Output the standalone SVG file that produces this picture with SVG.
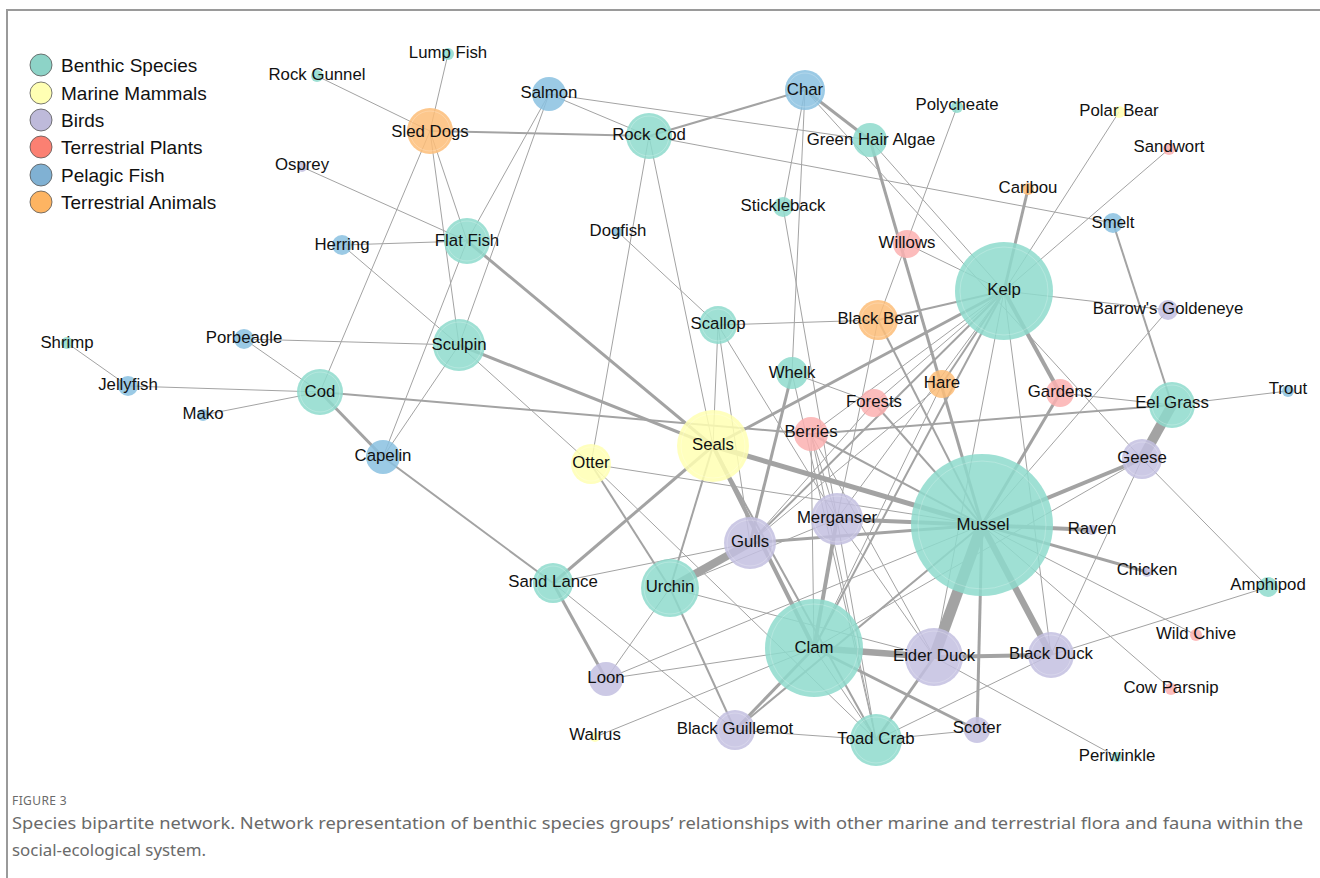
<svg xmlns="http://www.w3.org/2000/svg" width="1320" height="878" viewBox="0 0 1320 878">
<style>
.e{stroke:#a3a3a3;stroke-linecap:butt;fill:none}
.w1{stroke-width:1}.w2{stroke-width:2}.w3{stroke-width:3}.w4{stroke-width:4}.w5{stroke-width:5}.w6{stroke-width:6.5}.w8{stroke-width:8}.w10{stroke-width:10}.w11{stroke-width:11}
.n{fill-opacity:0.85}
.b{fill:#8edbcc}.m{fill:#ffffb3}.bi{fill:#c3bfe0}.p{fill:#fbb0b0}.f{fill:#8ac1e0}.a{fill:#fdbd78}
.ring{fill:none;stroke:#fff;stroke-opacity:0.22;stroke-width:1}
.lbl{font-family:"Liberation Sans",Arial,sans-serif;font-size:16.8px;fill:#111;text-anchor:middle}
.leg{font-family:"Liberation Sans",Arial,sans-serif;font-size:19px;fill:#111}
.lc{stroke:#555;stroke-width:0.8}
.cap{font-family:"Noto Sans","Open Sans",sans-serif;fill:#6a6a6a}
</style>
<rect x="0" y="0" width="1320" height="878" fill="#fff"/>
<path d="M7 878 V10 H1320" fill="none" stroke="#9a9a9a" stroke-width="2"/>

<g id="legend">
<circle class="lc" cx="41" cy="65" r="11" fill="#8dd3c7"/><text class="leg" x="61" y="72">Benthic Species</text>
<circle class="lc" cx="41" cy="93" r="11" fill="#ffffb3"/><text class="leg" x="61" y="100">Marine Mammals</text>
<circle class="lc" cx="41" cy="120" r="11" fill="#bebada"/><text class="leg" x="61" y="127">Birds</text>
<circle class="lc" cx="41" cy="147" r="11" fill="#fb8072"/><text class="leg" x="61" y="154">Terrestrial Plants</text>
<circle class="lc" cx="41" cy="175" r="11" fill="#80b1d3"/><text class="leg" x="61" y="182">Pelagic Fish</text>
<circle class="lc" cx="41" cy="202" r="11" fill="#fdb462"/><text class="leg" x="61" y="209">Terrestrial Animals</text>
</g>

<g id="connectors">
<line class="e w1" x1="448" y1="54" x2="430" y2="131"/>
<line class="e w1" x1="317" y1="76" x2="430" y2="131"/>
<line class="e w1" x1="302" y1="167" x2="467" y2="241"/>
<line class="e w1" x1="342" y1="245" x2="467" y2="241"/>
<line class="e w1" x1="342" y1="245" x2="459" y2="345"/>
<line class="e w1" x1="430" y1="131" x2="320" y2="392"/>
<line class="e w1" x1="430" y1="131" x2="459" y2="345"/>
<line class="e w1" x1="430" y1="131" x2="467" y2="241"/>
<line class="e w2" x1="430" y1="131" x2="649" y2="136"/>
<line class="e w1" x1="549" y1="94" x2="467" y2="241"/>
<line class="e w1" x1="549" y1="94" x2="459" y2="345"/>
<line class="e w1" x1="549" y1="94" x2="649" y2="136"/>
<line class="e w1" x1="549" y1="94" x2="870" y2="140"/>
<line class="e w2" x1="805" y1="90" x2="649" y2="136"/>
<line class="e w3" x1="805" y1="90" x2="870" y2="140"/>
<line class="e w1" x1="805" y1="90" x2="783" y2="207"/>
<line class="e w1" x1="805" y1="90" x2="792" y2="373"/>
<line class="e w1" x1="805" y1="90" x2="1142" y2="459"/>
<line class="e w1" x1="870" y1="140" x2="1004" y2="291"/>
<line class="e w3" x1="870" y1="140" x2="982" y2="525"/>
<line class="e w1" x1="783" y1="207" x2="837" y2="519"/>
<line class="e w1" x1="649" y1="136" x2="1113" y2="223"/>
<line class="e w1" x1="649" y1="136" x2="591" y2="464"/>
<line class="e w1" x1="649" y1="136" x2="713" y2="446"/>
<line class="e w1" x1="618" y1="232" x2="718" y2="325"/>
<line class="e w1" x1="718" y1="325" x2="837" y2="519"/>
<line class="e w1" x1="718" y1="325" x2="878" y2="320"/>
<line class="e w1" x1="718" y1="325" x2="713" y2="446"/>
<line class="e w1" x1="718" y1="325" x2="750" y2="543"/>
<line class="e w3" x1="467" y1="241" x2="713" y2="446"/>
<line class="e w1" x1="467" y1="241" x2="383" y2="457"/>
<line class="e w1" x1="244" y1="339" x2="320" y2="392"/>
<line class="e w1" x1="244" y1="339" x2="459" y2="345"/>
<line class="e w1" x1="67" y1="343" x2="128" y2="386"/>
<line class="e w1" x1="128" y1="386" x2="320" y2="392"/>
<line class="e w1" x1="203" y1="415" x2="320" y2="392"/>
<line class="e w3" x1="320" y1="392" x2="383" y2="457"/>
<line class="e w2" x1="320" y1="392" x2="811" y2="434"/>
<line class="e w2" x1="811" y1="434" x2="1172" y2="405"/>
<line class="e w3" x1="459" y1="345" x2="713" y2="446"/>
<line class="e w1" x1="459" y1="345" x2="591" y2="464"/>
<line class="e w1" x1="459" y1="345" x2="383" y2="457"/>
<line class="e w2" x1="383" y1="457" x2="553" y2="583"/>
<line class="e w3" x1="553" y1="583" x2="713" y2="446"/>
<line class="e w1" x1="553" y1="583" x2="750" y2="543"/>
<line class="e w3" x1="553" y1="583" x2="606" y2="679"/>
<line class="e w1" x1="553" y1="583" x2="735" y2="730"/>
<line class="e w2" x1="591" y1="464" x2="670" y2="588"/>
<line class="e w1" x1="591" y1="464" x2="876" y2="740"/>
<line class="e w1" x1="591" y1="464" x2="982" y2="525"/>
<line class="e w3" x1="713" y1="446" x2="1004" y2="291"/>
<line class="e w5" x1="713" y1="446" x2="982" y2="525"/>
<line class="e w4" x1="713" y1="446" x2="814" y2="648"/>
<line class="e w2" x1="713" y1="446" x2="876" y2="740"/>
<line class="e w2" x1="713" y1="446" x2="670" y2="588"/>
<line class="e w1" x1="792" y1="373" x2="874" y2="403"/>
<line class="e w3" x1="792" y1="373" x2="750" y2="543"/>
<line class="e w1" x1="792" y1="373" x2="876" y2="740"/>
<line class="e w2" x1="878" y1="320" x2="1004" y2="291"/>
<line class="e w1" x1="957" y1="107" x2="878" y2="320"/>
<line class="e w1" x1="878" y1="320" x2="837" y2="519"/>
<line class="e w2" x1="878" y1="320" x2="982" y2="525"/>
<line class="e w1" x1="1004" y1="291" x2="1168" y2="310"/>
<line class="e w4" x1="1004" y1="291" x2="1060" y2="393"/>
<line class="e w1" x1="1004" y1="291" x2="934" y2="657"/>
<line class="e w1" x1="1004" y1="291" x2="1051" y2="655"/>
<line class="e w3" x1="1004" y1="291" x2="1028" y2="189"/>
<line class="e w1" x1="1004" y1="291" x2="1119" y2="112"/>
<line class="e w1" x1="1004" y1="291" x2="1169" y2="149"/>
<line class="e w1" x1="1004" y1="291" x2="907" y2="244"/>
<line class="e w2" x1="1004" y1="291" x2="750" y2="543"/>
<line class="e w1" x1="1004" y1="291" x2="837" y2="519"/>
<line class="e w2" x1="1004" y1="291" x2="814" y2="648"/>
<line class="e w1" x1="1004" y1="291" x2="811" y2="434"/>
<line class="e w2" x1="1004" y1="291" x2="942" y2="384"/>
<line class="e w1" x1="1004" y1="291" x2="874" y2="403"/>
<line class="e w4" x1="982" y1="525" x2="837" y2="519"/>
<line class="e w3" x1="982" y1="525" x2="750" y2="543"/>
<line class="e w11" x1="982" y1="525" x2="934" y2="657"/>
<line class="e w6" x1="982" y1="525" x2="1051" y2="655"/>
<line class="e w4" x1="982" y1="525" x2="1092" y2="530"/>
<line class="e w3" x1="982" y1="525" x2="1147" y2="572"/>
<line class="e w1" x1="982" y1="525" x2="1196" y2="635"/>
<line class="e w1" x1="982" y1="525" x2="1171" y2="689"/>
<line class="e w3" x1="982" y1="525" x2="977" y2="730"/>
<line class="e w4" x1="982" y1="525" x2="1142" y2="459"/>
<line class="e w3" x1="982" y1="525" x2="1060" y2="393"/>
<line class="e w1" x1="982" y1="525" x2="1168" y2="310"/>
<line class="e w2" x1="982" y1="525" x2="735" y2="730"/>
<line class="e w1" x1="982" y1="525" x2="606" y2="679"/>
<line class="e w2" x1="874" y1="403" x2="982" y2="525"/>
<line class="e w1" x1="874" y1="403" x2="750" y2="543"/>
<line class="e w1" x1="942" y1="384" x2="814" y2="648"/>
<line class="e w1" x1="942" y1="384" x2="750" y2="543"/>
<line class="e w1" x1="811" y1="434" x2="814" y2="648"/>
<line class="e w2" x1="811" y1="434" x2="982" y2="525"/>
<line class="e w1" x1="811" y1="434" x2="837" y2="519"/>
<line class="e w1" x1="811" y1="434" x2="934" y2="657"/>
<line class="e w1" x1="811" y1="434" x2="876" y2="740"/>
<line class="e w8" x1="670" y1="588" x2="750" y2="543"/>
<line class="e w1" x1="670" y1="588" x2="606" y2="679"/>
<line class="e w2" x1="670" y1="588" x2="735" y2="730"/>
<line class="e w1" x1="670" y1="588" x2="934" y2="657"/>
<line class="e w1" x1="670" y1="588" x2="837" y2="519"/>
<line class="e w1" x1="606" y1="679" x2="814" y2="648"/>
<line class="e w1" x1="595" y1="737" x2="814" y2="648"/>
<line class="e w1" x1="735" y1="730" x2="876" y2="740"/>
<line class="e w3" x1="735" y1="730" x2="814" y2="648"/>
<line class="e w1" x1="876" y1="740" x2="977" y2="730"/>
<line class="e w3" x1="876" y1="740" x2="934" y2="657"/>
<line class="e w1" x1="876" y1="740" x2="1051" y2="655"/>
<line class="e w1" x1="876" y1="740" x2="814" y2="648"/>
<line class="e w3" x1="977" y1="730" x2="814" y2="648"/>
<line class="e w6" x1="934" y1="657" x2="814" y2="648"/>
<line class="e w4" x1="934" y1="657" x2="1051" y2="655"/>
<line class="e w1" x1="934" y1="657" x2="1117" y2="757"/>
<line class="e w1" x1="1051" y1="655" x2="1268" y2="587"/>
<line class="e w1" x1="1051" y1="655" x2="1142" y2="459"/>
<line class="e w1" x1="1142" y1="459" x2="1268" y2="587"/>
<line class="e w10" x1="1142" y1="459" x2="1172" y2="405"/>
<line class="e w2" x1="1172" y1="405" x2="1113" y2="223"/>
<line class="e w1" x1="1172" y1="405" x2="1288" y2="391"/>
<line class="e w1" x1="1172" y1="405" x2="1060" y2="393"/>
<line class="e w1" x1="814" y1="648" x2="1142" y2="459"/>
<line class="e w4" x1="837" y1="519" x2="814" y2="648"/>
<line class="e w1" x1="837" y1="519" x2="934" y2="657"/>
<line class="e w1" x1="837" y1="519" x2="876" y2="740"/>
</g>

<g id="node-lump-fish"><circle class="n b" cx="448" cy="54" r="6"/><text class="lbl" x="448" y="58">Lump Fish</text></g>
<g id="node-rock-gunnel"><circle class="n b" cx="317" cy="76" r="6"/><text class="lbl" x="317" y="80">Rock Gunnel</text></g>
<g id="node-sled-dogs"><circle class="n a" cx="430" cy="131" r="23"/><circle class="ring" cx="430" cy="131" r="20"/><text class="lbl" x="430" y="137">Sled Dogs</text></g>
<g id="node-osprey"><circle class="n bi" cx="302" cy="167" r="5"/><text class="lbl" x="302" y="170">Osprey</text></g>
<g id="node-salmon"><circle class="n f" cx="549" cy="94" r="17"/><text class="lbl" x="549" y="98">Salmon</text></g>
<g id="node-rock-cod"><circle class="n b" cx="649" cy="136" r="23"/><circle class="ring" cx="649" cy="136" r="20"/><text class="lbl" x="649" y="140">Rock Cod</text></g>
<g id="node-char"><circle class="n f" cx="805" cy="90" r="20"/><circle class="ring" cx="805" cy="90" r="17"/><text class="lbl" x="805" y="95">Char</text></g>
<g id="node-green-hair-algae"><circle class="n b" cx="870" cy="140" r="17"/><text class="lbl" x="871" y="145">Green Hair Algae</text></g>
<g id="node-polycheate"><circle class="n b" cx="957" cy="107" r="6"/><text class="lbl" x="957" y="110">Polycheate</text></g>
<g id="node-polar-bear"><circle class="n m" cx="1119" cy="112" r="6"/><text class="lbl" x="1119" y="116">Polar Bear</text></g>
<g id="node-sandwort"><circle class="n p" cx="1169" cy="149" r="6"/><text class="lbl" x="1169" y="152">Sandwort</text></g>
<g id="node-caribou"><circle class="n a" cx="1028" cy="189" r="6"/><text class="lbl" x="1028" y="193">Caribou</text></g>
<g id="node-stickleback"><circle class="n b" cx="783" cy="207" r="10"/><text class="lbl" x="783" y="211">Stickleback</text></g>
<g id="node-smelt"><circle class="n f" cx="1113" cy="223" r="10"/><text class="lbl" x="1113" y="228">Smelt</text></g>
<g id="node-dogfish"><circle class="n f" cx="618" cy="232" r="5"/><text class="lbl" x="618" y="236">Dogfish</text></g>
<g id="node-herring"><circle class="n f" cx="342" cy="245" r="10"/><text class="lbl" x="342" y="250">Herring</text></g>
<g id="node-flat-fish"><circle class="n b" cx="467" cy="241" r="23"/><circle class="ring" cx="467" cy="241" r="20"/><text class="lbl" x="467" y="246">Flat Fish</text></g>
<g id="node-willows"><circle class="n p" cx="907" cy="244" r="14"/><text class="lbl" x="907" y="248">Willows</text></g>
<g id="node-kelp"><circle class="n b" cx="1004" cy="291" r="49"/><circle class="ring" cx="1004" cy="291" r="44"/><text class="lbl" x="1004" y="295">Kelp</text></g>
<g id="node-barrows-goldeneye"><circle class="n bi" cx="1168" cy="310" r="10"/><text class="lbl" x="1168" y="314">Barrow's Goldeneye</text></g>
<g id="node-scallop"><circle class="n b" cx="718" cy="325" r="19"/><circle class="ring" cx="718" cy="325" r="16"/><text class="lbl" x="718" y="329">Scallop</text></g>
<g id="node-black-bear"><circle class="n a" cx="878" cy="320" r="20"/><circle class="ring" cx="878" cy="320" r="17"/><text class="lbl" x="878" y="324">Black Bear</text></g>
<g id="node-shrimp"><circle class="n b" cx="67" cy="343" r="6"/><text class="lbl" x="67" y="348">Shrimp</text></g>
<g id="node-porbeagle"><circle class="n f" cx="244" cy="339" r="10"/><text class="lbl" x="244" y="343">Porbeagle</text></g>
<g id="node-sculpin"><circle class="n b" cx="459" cy="345" r="26"/><circle class="ring" cx="459" cy="345" r="23"/><text class="lbl" x="459" y="350">Sculpin</text></g>
<g id="node-whelk"><circle class="n b" cx="792" cy="373" r="16"/><text class="lbl" x="792" y="378">Whelk</text></g>
<g id="node-hare"><circle class="n a" cx="942" cy="384" r="14"/><text class="lbl" x="942" y="388">Hare</text></g>
<g id="node-jellyfish"><circle class="n f" cx="128" cy="386" r="10"/><text class="lbl" x="128" y="390">Jellyfish</text></g>
<g id="node-cod"><circle class="n b" cx="320" cy="392" r="23"/><circle class="ring" cx="320" cy="392" r="20"/><text class="lbl" x="320" y="397">Cod</text></g>
<g id="node-forests"><circle class="n p" cx="874" cy="403" r="14"/><text class="lbl" x="874" y="407">Forests</text></g>
<g id="node-gardens"><circle class="n p" cx="1060" cy="393" r="14"/><text class="lbl" x="1060" y="397">Gardens</text></g>
<g id="node-eel-grass"><circle class="n b" cx="1172" cy="405" r="23"/><circle class="ring" cx="1172" cy="405" r="20"/><text class="lbl" x="1172" y="408">Eel Grass</text></g>
<g id="node-trout"><circle class="n f" cx="1288" cy="391" r="6"/><text class="lbl" x="1288" y="394">Trout</text></g>
<g id="node-mako"><circle class="n f" cx="203" cy="415" r="6"/><text class="lbl" x="203" y="419">Mako</text></g>
<g id="node-berries"><circle class="n p" cx="811" cy="434" r="17"/><text class="lbl" x="811" y="437">Berries</text></g>
<g id="node-seals"><circle class="n m" cx="713" cy="446" r="36"/><circle class="ring" cx="713" cy="446" r="32"/><text class="lbl" x="713" y="450">Seals</text></g>
<g id="node-capelin"><circle class="n f" cx="383" cy="457" r="17"/><text class="lbl" x="383" y="461">Capelin</text></g>
<g id="node-otter"><circle class="n m" cx="591" cy="464" r="20"/><circle class="ring" cx="591" cy="464" r="17"/><text class="lbl" x="591" y="468">Otter</text></g>
<g id="node-geese"><circle class="n bi" cx="1142" cy="459" r="20"/><circle class="ring" cx="1142" cy="459" r="17"/><text class="lbl" x="1142" y="463">Geese</text></g>
<g id="node-merganser"><circle class="n bi" cx="837" cy="519" r="26"/><circle class="ring" cx="837" cy="519" r="23"/><text class="lbl" x="837" y="523">Merganser</text></g>
<g id="node-mussel"><circle class="n b" cx="982" cy="525" r="71"/><circle class="ring" cx="982" cy="525" r="64"/><text class="lbl" x="983" y="530">Mussel</text></g>
<g id="node-raven"><circle class="n bi" cx="1092" cy="530" r="5"/><text class="lbl" x="1092" y="534">Raven</text></g>
<g id="node-gulls"><circle class="n bi" cx="750" cy="543" r="26"/><circle class="ring" cx="750" cy="543" r="23"/><text class="lbl" x="750" y="547">Gulls</text></g>
<g id="node-chicken"><circle class="n bi" cx="1147" cy="572" r="5"/><text class="lbl" x="1147" y="575">Chicken</text></g>
<g id="node-sand-lance"><circle class="n b" cx="553" cy="583" r="20"/><circle class="ring" cx="553" cy="583" r="17"/><text class="lbl" x="553" y="587">Sand Lance</text></g>
<g id="node-urchin"><circle class="n b" cx="670" cy="588" r="29"/><circle class="ring" cx="670" cy="588" r="26"/><text class="lbl" x="670" y="592">Urchin</text></g>
<g id="node-amphipod"><circle class="n b" cx="1268" cy="587" r="10"/><text class="lbl" x="1268" y="590">Amphipod</text></g>
<g id="node-clam"><circle class="n b" cx="814" cy="648" r="49"/><circle class="ring" cx="814" cy="648" r="44"/><text class="lbl" x="814" y="653">Clam</text></g>
<g id="node-eider-duck"><circle class="n bi" cx="934" cy="657" r="29"/><circle class="ring" cx="934" cy="657" r="26"/><text class="lbl" x="934" y="661">Eider Duck</text></g>
<g id="node-black-duck"><circle class="n bi" cx="1051" cy="655" r="23"/><circle class="ring" cx="1051" cy="655" r="20"/><text class="lbl" x="1051" y="659">Black Duck</text></g>
<g id="node-wild-chive"><circle class="n p" cx="1196" cy="635" r="6"/><text class="lbl" x="1196" y="639">Wild Chive</text></g>
<g id="node-loon"><circle class="n bi" cx="606" cy="679" r="17"/><text class="lbl" x="606" y="683">Loon</text></g>
<g id="node-cow-parsnip"><circle class="n p" cx="1171" cy="689" r="6"/><text class="lbl" x="1171" y="693">Cow Parsnip</text></g>
<g id="node-walrus"><circle class="n m" cx="595" cy="737" r="5"/><text class="lbl" x="595" y="740">Walrus</text></g>
<g id="node-black-guillemot"><circle class="n bi" cx="735" cy="730" r="20"/><circle class="ring" cx="735" cy="730" r="17"/><text class="lbl" x="735" y="734">Black Guillemot</text></g>
<g id="node-toad-crab"><circle class="n b" cx="876" cy="740" r="26"/><circle class="ring" cx="876" cy="740" r="23"/><text class="lbl" x="876" y="744">Toad Crab</text></g>
<g id="node-scoter"><circle class="n bi" cx="977" cy="730" r="13"/><text class="lbl" x="977" y="733">Scoter</text></g>
<g id="node-periwinkle"><circle class="n b" cx="1117" cy="757" r="5"/><text class="lbl" x="1117" y="761">Periwinkle</text></g>

<g id="caption">
<text class="cap" x="12" y="805" font-size="12" letter-spacing="0.4">FIGURE 3</text>
<text class="cap" x="12" y="829" font-size="16" textLength="1291" lengthAdjust="spacingAndGlyphs">Species bipartite network. Network representation of benthic species groups’ relationships with other marine and terrestrial flora and fauna within the</text>
<text class="cap" x="12" y="856" font-size="16" textLength="194" lengthAdjust="spacingAndGlyphs">social-ecological system.</text>
</g>
</svg>
